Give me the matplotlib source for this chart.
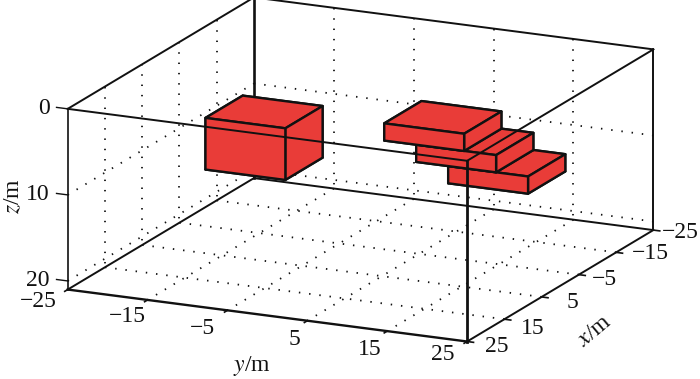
import numpy as np
import matplotlib
matplotlib.use('Agg')
from matplotlib import pyplot as plt
from mpl_toolkits.mplot3d import proj3d

plt.rcParams['font.family'] = ['Liberation Serif', 'DejaVu Serif']
plt.rcParams['mathtext.fontset'] = 'stix'

x_ticks = [-25, -15, -5, 5, 15, 25]
y_ticks = [-25, -15, -5, 5, 15, 25]
z_ticks = [0, 10, 20]
x_lim = (-25, 25)
y_lim = (-25, 25)
z_lim = (21, 0)

# prisms: x start, y start, z top, size in x, y, z
box_x = [0, -2, -2, -2]
box_y = [-14.75, 14.7, 10.7, 6.7]
box_z = [3.7, 6.26, 4.26, 2.26]
box_dx = [10, 10, 10, 10]
box_dy = [10, 10, 10, 10]
box_dz = [6, 2, 2, 2]

# label nudges from the tick, pixels
y_label_off = [(-29, -12), (-20, -17), (-25, -18), (-13, -19), (-18, -18), (-24, -13)]
x_label_off = [(27, -2), (34, -1), (26, -5), (31, -6), (28, -9), (30, -5)]

RED = '#e93c38'
BLACK = '#111111'

fig = plt.figure(figsize=(7, 3.79), dpi=100)
ax = fig.add_axes([36/700, -115/379, 632/700, 632/379], projection='3d',
                  proj_type='ortho', computed_zorder=False)
ax.set_axis_off()
ax.view_init(elev=16.2, azim=25)
ax.set_box_aspect((1, 1, 0.427))
ax.set_xlim(*x_lim, view_margin=0)
ax.set_ylim(*y_lim, view_margin=0)
ax.set_zlim(*z_lim, view_margin=0)
ax.patch.set_alpha(0)

x0, x1 = x_lim
y0, y1 = y_lim
ztop, zbot = z_lim[1], z_lim[0]
dots = dict(color=BLACK, lw=1.3, ls=(0, (0.8, 4.9)), zorder=1)
edge = dict(color=BLACK, lw=1.4, zorder=2, solid_capstyle='round')
font = 17


def label(s, x, y, z, dx, dy, **kw):
    px, py, _ = proj3d.proj_transform(x, y, z, ax.get_proj())
    ax.annotate(s, (px, py), xytext=(dx, dy), textcoords='offset pixels', fontsize=font,
                color=BLACK, annotation_clip=False, zorder=11, va='center', **kw)


# grid on the two back walls and the floor
for y in y_ticks[1:-1]:
    ax.plot([x0, x0], [y, y], [ztop, zbot], **dots)
    ax.plot([x0, x1], [y, y], [zbot, zbot], **dots)
for x in x_ticks[1:-1]:
    ax.plot([x, x], [y0, y0], [ztop, zbot], **dots)
    ax.plot([x, x], [y0, y1], [zbot, zbot], **dots)
for z in z_ticks[1:]:
    ax.plot([x1, x0], [y0, y0], [z, z], **dots)
    ax.plot([x0, x0], [y0, y1], [z, z], **dots)

# back edges, hidden by the prisms
ax.plot([x0, x0], [y0, y0], [ztop, zbot], color=BLACK, lw=1.9, zorder=2)
ax.plot([x0, x0], [y1, y1], [ztop, zbot], **edge)
ax.plot([x0, x0], [y0, y1], [ztop, ztop], **edge)
ax.plot([x0, x0], [y0, y1], [zbot, zbot], **edge)
ax.plot([x1, x0], [y0, y0], [ztop, ztop], **edge)
ax.plot([x1, x0], [y0, y0], [zbot, zbot], **edge)
ax.plot([x1, x0], [y1, y1], [zbot, zbot], **edge)

for i in range(len(box_x)):
    ax.bar3d(box_x[i], box_y[i], box_z[i], box_dx[i], box_dy[i], box_dz[i], color=RED,
             shade=False, edgecolor=BLACK, linewidth=1.7, zorder=3 + i)

# front edges run over the prisms
ax.plot([x1, x1], [y0, y0], [ztop, zbot], color=BLACK, lw=1.2, zorder=10)
ax.plot([x1, x1], [y1, y1], [ztop, zbot], color=BLACK, lw=2, zorder=10)
ax.plot([x1, x1], [y0, y1], [ztop, ztop], color=BLACK, lw=1.4, zorder=10)
ax.plot([x1, x1], [y0, y1], [zbot, zbot], color=BLACK, lw=1.7, zorder=10)
ax.plot([x1, x0], [y1, y1], [ztop, ztop], color=BLACK, lw=1.4, zorder=10)

for i, y in enumerate(y_ticks):
    ax.plot([x1, x1 + 0.8], [y, y], [zbot, zbot], color=BLACK, lw=1.2, zorder=10)
    label(str(y).replace('-', '\u2212'), x1, y, zbot, *y_label_off[i], ha='center')
for i, x in enumerate(x_ticks):
    ax.plot([x, x], [y1, y1 + 0.8], [zbot, zbot], color=BLACK, lw=1.2, zorder=10)
    label(str(x).replace('-', '\u2212'), x, y1, zbot, *x_label_off[i], ha='center')
for z in z_ticks:
    ax.plot([x1, x1], [y0 - 1.4, y0], [z, z], color=BLACK, lw=1.0, zorder=10)
    label(str(z), x1, y0, z, -18, 0, ha='right')

fig.text(14/700, 1 - 196/379, r'$z$/m', rotation=90, fontsize=font, ha='center', va='center',
         color=BLACK)
fig.text(252/700, 1 - 366/379, r'$y$/m', fontsize=font, ha='center', va='center', color=BLACK)
fig.text(595/700, 1 - 331/379, r'$x$/m', rotation=40, fontsize=font, ha='center', va='center',
         color=BLACK)

fig.savefig('out.png', dpi=100, facecolor='white')
